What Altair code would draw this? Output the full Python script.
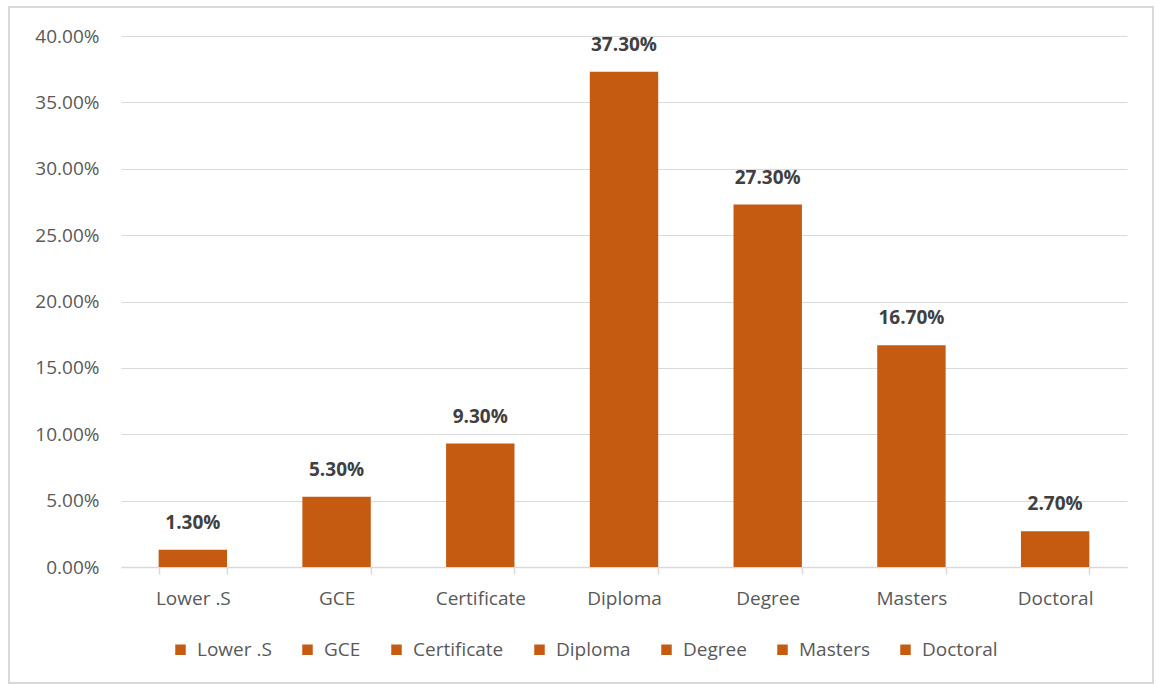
import altair as alt
import pandas as pd

categories = ["Lower .S", "GCE", "Certificate", "Diploma", "Degree", "Masters", "Doctoral"]
values = [0.013, 0.053, 0.093, 0.373, 0.273, 0.167, 0.027]
labels = ["1.30%", "5.30%", "9.30%", "37.30%", "27.30%", "16.70%", "2.70%"]

df = pd.DataFrame({"cat": categories, "val": values, "lab": labels})

ORANGE = "#c55a11"
FONT = "Open Sans"

x = alt.X("cat:N", sort=categories, title=None,
          scale=alt.Scale(paddingInner=0.524, paddingOuter=0.262),
          axis=alt.Axis(labelAngle=0, labelFontSize=19, labelColor="#595959", labelFont=FONT,
                        labelPadding=15, domainColor="#d9d9d9", domainWidth=1.5, tickColor="#d9d9d9",
                        tickWidth=1.5, tickSize=7, tickBand="extent", grid=False))
y = alt.Y("val:Q", title=None,
          scale=alt.Scale(domain=[0, 0.4], nice=False),
          axis=alt.Axis(format=".2%", values=[0, 0.05, 0.1, 0.15, 0.2, 0.25, 0.3, 0.35, 0.4],
                        labelFontSize=19, labelColor="#595959", labelFont=FONT, labelPadding=22,
                        domain=False, ticks=False, gridColor="#d9d9d9", gridWidth=1))

bars = alt.Chart(df).mark_bar().encode(
    x=x, y=y,
    color=alt.Color("cat:N", sort=categories, title=None,
                    scale=alt.Scale(domain=categories, range=[ORANGE] * 7),
                    legend=alt.Legend(orient="none", direction="horizontal", legendX=50, legendY=604,
                                      symbolType="square", symbolSize=110, symbolStrokeWidth=0,
                                      labelFontSize=19, labelColor="#595959", labelFont=FONT,
                                      columnPadding=26, symbolOffset=0, labelOffset=7))
)

text = alt.Chart(df).mark_text(dy=-27, fontSize=19, fontWeight="bold", color="#404040", font=FONT).encode(
    x=alt.X("cat:N", sort=categories), y="val:Q", text="lab:N"
)

border = alt.Chart(df).mark_rect(fill=None, stroke="#d9d9d9", strokeWidth=1.5).encode(
    x=alt.value(-112), x2=alt.value(1032), y=alt.value(-29), y2=alt.value(647)
)

chart = alt.layer(border, bars, text).properties(
    width=1006, height=531,
    autosize=alt.AutoSizeParams(type="none"),
    padding={"left": 121, "top": 36, "right": 30, "bottom": 117},
    background="white"
).configure_view(stroke=None)

chart.save("out.html", embed_options={"renderer": "svg", "actions": False})
